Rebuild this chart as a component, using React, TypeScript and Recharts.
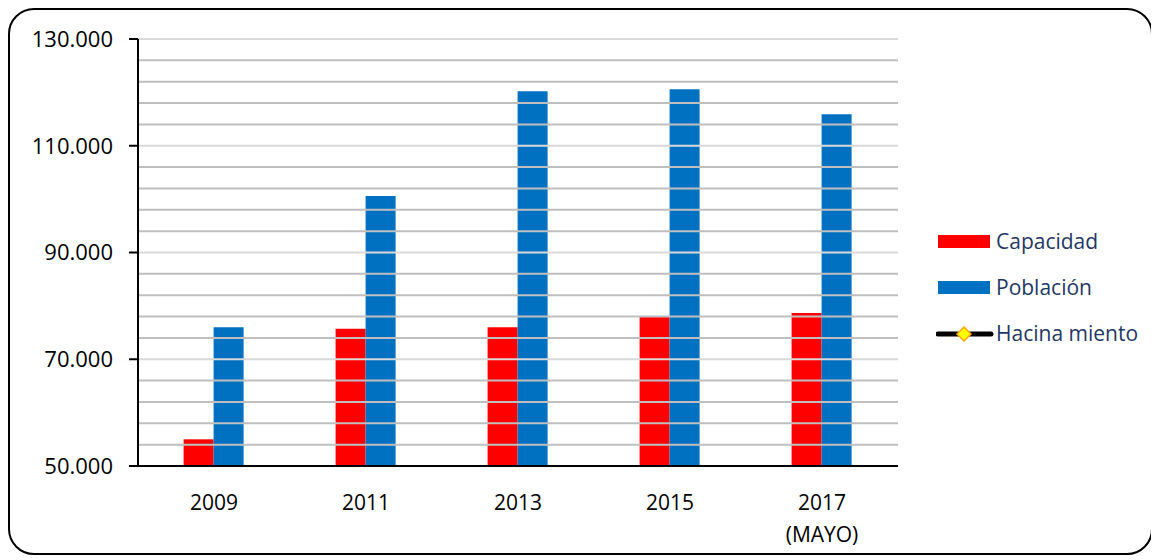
import React from "react";
import { BarChart, Bar, XAxis, YAxis, ReferenceLine } from "recharts";

const categories = ["2009", "2011", "2013", "2015", "2017\n(MAYO)"];
const capacidad = [55000, 75700, 76000, 77900, 78650];
const poblacion = [76000, 100600, 120200, 120600, 115900];
const yTicks = [50000, 70000, 90000, 110000, 130000];
const gridValues = [54000, 58000, 62000, 66000, 70000, 74000, 78000, 82000, 86000, 90000, 94000, 98000, 102000, 106000, 110000, 114000, 118000, 122000, 126000, 130000];
const legendItems = ["Capacidad", "Población", "Hacina miento"];

const data = categories.map((c, i) => ({ cat: c, capacidad: capacidad[i], poblacion: poblacion[i] }));

const fmt = (v: number) => v.toString().replace(/\B(?=(\d{3})+(?!\d))/g, ".");

const FONT = "'Open Sans', sans-serif";

const XTick = (props: any) => {
  const { x, payload } = props;
  const lines = String(payload.value).split("\n");
  return (
    <g transform={`translate(${x},456)`}>
      {lines.map((l, i) => (
        <text key={i} x={0} y={44 + i * 32} textAnchor="middle" fill="#000" fontSize={21} fontFamily={FONT}>
          {l}
        </text>
      ))}
    </g>
  );
};

const LegendBox = () => (
  <div style={{ fontFamily: FONT, fontSize: 21, color: "#1F3864" }}>
    {legendItems.map((name, i) => (
      <div key={name} style={{ display: "flex", alignItems: "center", height: 46 }}>
        <svg width={58} height={20} style={{ marginRight: 2 }}>
          {i === 0 && <rect x={2} y={4} width={52} height={13} fill="#FF0000" />}
          {i === 1 && <rect x={2} y={4} width={52} height={13} fill="#0070C0" />}
          {i === 2 && (
            <g>
              <line x1={2} y1={11} x2={55} y2={11} stroke="#000" strokeWidth={5} strokeLinecap="round" />
              <polygon points="28,4 35,11 28,18 21,11" fill="#FFFF00" stroke="#FFA500" strokeWidth={1.5} />
            </g>
          )}
        </svg>
        <span>{name}</span>
      </div>
    ))}
  </div>
);

export default function App() {
  return (
    <div
      style={{
        position: "relative",
        width: 1141,
        height: 543,
        border: "2px solid #000",
        borderRadius: 26,
        background: "#fff",
        boxSizing: "content-box",
        margin: 0,
      }}
    >
      <BarChart
        width={1141}
        height={543}
        data={data}
        margin={{ top: 29, right: 253, bottom: 0, left: 0 }}
        barGap={0}
        barCategoryGap="30%"
      >
        {gridValues.map((v) => (
          <ReferenceLine key={v} y={v} stroke={v % 20000 === 10000 ? "#d9d9d9" : "#bfbfbf"} strokeWidth={2} />
        ))}
        <XAxis
          dataKey="cat"
          height={87}
          tick={<XTick />}
          tickLine={false}
          axisLine={{ stroke: "#000", strokeWidth: 2 }}
          interval={0}
        />
        <YAxis
          width={128}
          domain={[50000, 130000]}
          ticks={yTicks}
          tickFormatter={fmt}
          allowDataOverflow
          axisLine={{ stroke: "#000", strokeWidth: 2 }}
          tickLine={{ stroke: "#000", strokeWidth: 2 }}
          tickSize={9}
          tickMargin={16}
          tick={{ fill: "#000", fontSize: 22, fontFamily: FONT }}
        />
        <Bar dataKey="capacidad" name="Capacidad" fill="#FF0000" isAnimationActive={false} />
        <Bar dataKey="poblacion" name="Población" fill="#0070C0" isAnimationActive={false} />
      </BarChart>
      <div style={{ position: "absolute", left: 926, top: 208 }}>
        <LegendBox />
      </div>
    </div>
  );
}
